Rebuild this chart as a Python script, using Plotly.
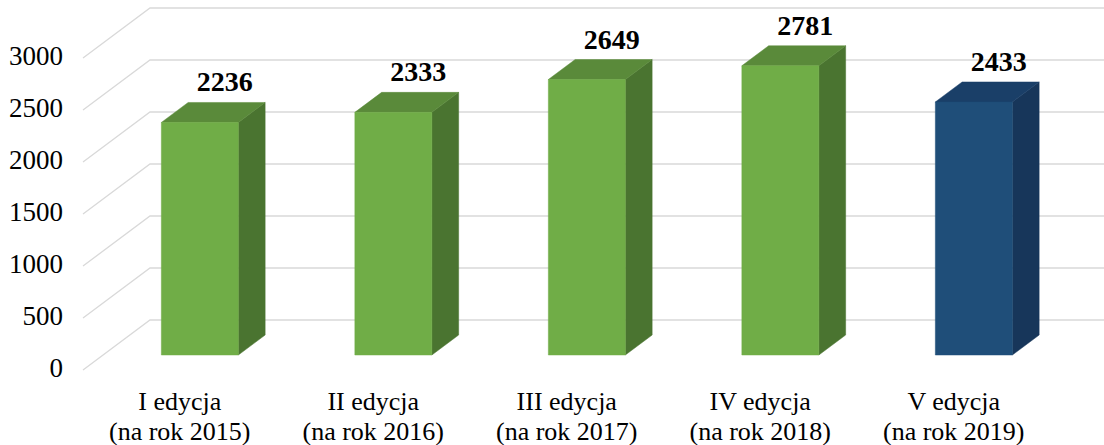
import plotly.graph_objects as go

# ---- data ----
categories_line1 = ["I edycja", "II edycja", "III edycja", "IV edycja", "V edycja"]
categories_line2 = ["(na rok 2015)", "(na rok 2016)", "(na rok 2017)", "(na rok 2018)", "(na rok 2019)"]
values = [2236, 2333, 2649, 2781, 2433]
y_ticks = [0, 500, 1000, 1500, 2000, 2500, 3000]
y_tick_labels = ["0", "500", "1000", "1500", "2000", "2500", "3000"]

# ---- styles ----
green = dict(front="#70AD47", side="#4A7430", top="#5A8A3A")
blue = dict(front="#1F4E79", side="#17365A", top="#1A3F68")
bar_styles = [green, green, green, green, blue]
FONT = "'Liberation Serif', 'Times New Roman', Times, serif"

W, H = 1104, 445
PX_PER_CAT = 193.5
PX_PER_VAL = 0.104
X0_PX, Y0_PX = 83, 370
x_range = [-X0_PX / PX_PER_CAT, (W - X0_PX) / PX_PER_CAT]
y_range = [(Y0_PX - H) / PX_PER_VAL, Y0_PX / PX_PER_VAL]

DX = 67 / PX_PER_CAT   # depth in x units
DY = 50 / PX_PER_VAL   # depth in y units
BAR_W = 77 / PX_PER_CAT
D0, D1 = 0.3, 0.7

fig = go.Figure()

# gridlines (left wall diagonal + back wall)
for v in y_ticks:
    fig.add_trace(go.Scatter(
        x=[0, DX, 5 + DX + 0.2], y=[v, v + DY, v + DY],
        mode="lines", line=dict(color="#D9D9D9", width=1.3),
        hoverinfo="skip", showlegend=False))

# bars
n = len(values)
for i, v in enumerate(values):
    st = bar_styles[i]
    c = i + 0.5
    xl = c + D0 * DX - BAR_W / 2
    xr = xl + BAR_W
    yb = D0 * DY
    yt = yb + v
    ddx = (D1 - D0) * DX
    ddy = (D1 - D0) * DY
    # side
    fig.add_trace(go.Scatter(
        x=[xr, xr + ddx, xr + ddx, xr, xr], y=[yb, yb + ddy, yt + ddy, yt, yb],
        fill="toself", fillcolor=st["side"], mode="lines",
        line=dict(color=st["side"], width=0.5), hoverinfo="skip", showlegend=False))
    # top
    fig.add_trace(go.Scatter(
        x=[xl, xr, xr + ddx, xl + ddx, xl], y=[yt, yt, yt + ddy, yt + ddy, yt],
        fill="toself", fillcolor=st["top"], mode="lines",
        line=dict(color=st["top"], width=0.5), hoverinfo="skip", showlegend=False))
    # front
    fig.add_trace(go.Scatter(
        x=[xl, xr, xr, xl, xl], y=[yb, yb, yt, yt, yb],
        fill="toself", fillcolor=st["front"], mode="lines",
        line=dict(color=st["front"], width=0.5), hoverinfo="skip", showlegend=False))

# data labels
fig.add_trace(go.Scatter(
    x=[i + 0.5 + D1 * DX - 2 / PX_PER_CAT for i in range(n)],
    y=[v + D1 * DY + 18 / PX_PER_VAL for v in values],
    text=[f"<b>{v}</b>" for v in values], mode="text", textposition="middle center",
    textfont=dict(family=FONT, size=28, color="#000000"),
    hoverinfo="skip", showlegend=False, cliponaxis=False))

# y tick labels
fig.add_trace(go.Scatter(
    x=[-20 / PX_PER_CAT] * len(y_ticks), y=y_ticks, text=y_tick_labels,
    mode="text", textposition="middle left",
    textfont=dict(family=FONT, size=27, color="#000000"),
    hoverinfo="skip", showlegend=False, cliponaxis=False))

# category labels
fig.add_trace(go.Scatter(
    x=[i + 0.5 for i in range(n)], y=[-33 / PX_PER_VAL] * n, text=categories_line1,
    mode="text", textposition="middle center",
    textfont=dict(family=FONT, size=26, color="#000000"),
    hoverinfo="skip", showlegend=False, cliponaxis=False))
fig.add_trace(go.Scatter(
    x=[i + 0.5 for i in range(n)], y=[-63 / PX_PER_VAL] * n, text=categories_line2,
    mode="text", textposition="middle center",
    textfont=dict(family=FONT, size=26, color="#000000"),
    hoverinfo="skip", showlegend=False, cliponaxis=False))

fig.update_layout(
    width=W, height=H, margin=dict(l=0, r=0, t=0, b=0),
    paper_bgcolor="white", plot_bgcolor="white",
    font=dict(family=FONT),
    xaxis=dict(range=x_range, visible=False, fixedrange=True),
    yaxis=dict(range=y_range, visible=False, fixedrange=True),
)

fig.write_html(
    "out.html",
    config={"displayModeBar": False},
    post_script="document.body.style.margin='0';document.body.style.overflow='hidden';",
)
